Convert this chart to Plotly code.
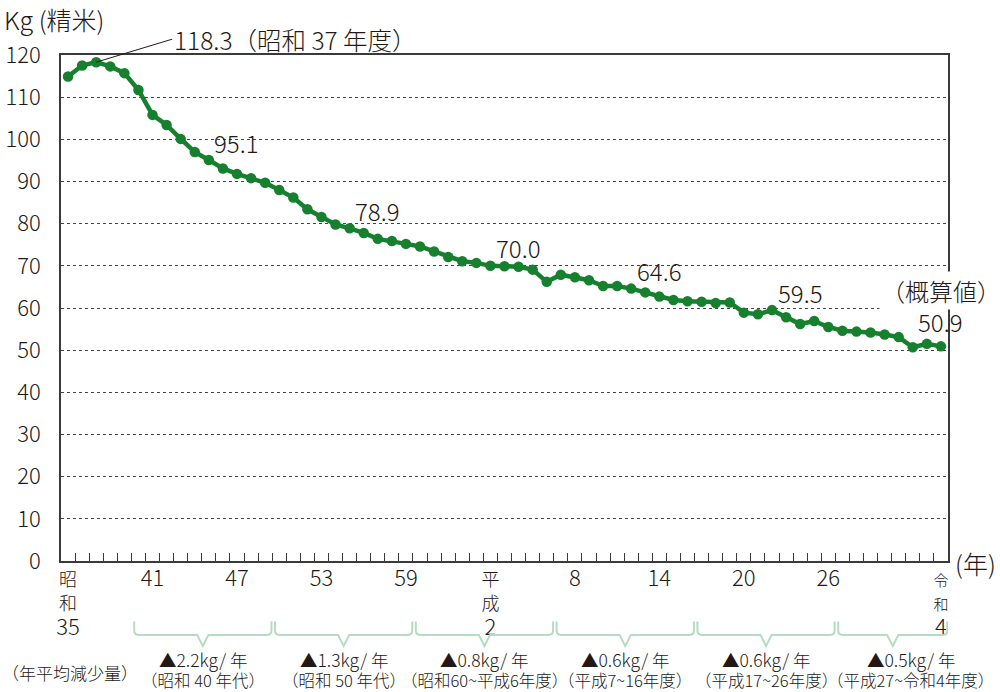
import plotly.graph_objects as go

# ---- data ----
years = list(range(1960, 2023))
consumption = [
    114.9, 117.5, 118.3, 117.3, 115.7, 111.7, 105.8, 103.4, 100.1, 97.0,
    95.1, 93.1, 91.8, 90.8, 89.7, 88.0, 86.2, 83.4, 81.6, 79.8,
    78.9, 77.8, 76.4, 75.9, 75.2, 74.6, 73.4, 72.1, 71.1, 70.7,
    70.0, 69.9, 69.8, 69.1, 66.2, 67.9, 67.3, 66.6, 65.2, 65.2,
    64.6, 63.7, 62.7, 61.9, 61.6, 61.5, 61.2, 61.3, 58.9, 58.5,
    59.5, 57.8, 56.2, 56.9, 55.5, 54.6, 54.4, 54.2, 53.7, 53.1,
    50.7, 51.5, 50.9,
]

tick_years = [1960, 1966, 1972, 1978, 1984, 1990, 1996, 2002, 2008, 2014, 2022]
tick_era = ["昭和", "", "", "", "", "平成", "", "", "", "", "令和"]
tick_nums = ["35", "41", "47", "53", "59", "2", "8", "14", "20", "26", "4"]

label_years = [1970, 1980, 1990, 2000, 2010]
peak_year = 1962
peak_text = "118.3（昭和 37 年度）"
last_year = 2022

period_start = [1965, 1975, 1985, 1995, 2005, 2015]
period_end = [1974, 1984, 1994, 2004, 2014, 2022]
period_rate = ["▲2.2kg/ 年", "▲1.3kg/ 年", "▲0.8kg/ 年", "▲0.6kg/ 年", "▲0.6kg/ 年", "▲0.5kg/ 年"]
period_name = ["（昭和 40 年代）", "（昭和 50 年代）", "（昭和60~平成6年度）",
               "（平成7~16年度）", "（平成17~26年度）", "（平成27~令和4年度）"]

# ---- style ----
FONT = "Noto Sans CJK JP"
TXT = "#231815"
GREEN = "#16802e"
BRACKET = "#b5dcc3"
W = 300

def f(size):
    return dict(size=size, color=TXT, family=FONT, weight=W)

fig = go.Figure()
fig.add_trace(go.Scatter(
    x=years, y=consumption, mode="lines+markers",
    line=dict(color=GREEN, width=4.5),
    marker=dict(color=GREEN, size=10.5),
    cliponaxis=False, hoverinfo="skip",
))

# tick labels
ticktext = []
for era, num in zip(tick_era, tick_nums):
    parts = []
    if era:
        fs = 18 if era != "令和" else 15
        for ch in era:
            parts.append(f"<span style='font-size:{fs}px'>{ch}</span>")
    parts.append(f"<span style='font-size:22px'>{num}</span>")
    ticktext.append("<br>".join(parts))

annotations = []
val = dict(zip(years, consumption))
for yr in label_years:
    annotations.append(dict(x=yr, y=val[yr], text=f"{val[yr]:.1f}", showarrow=False,
                            xshift=28, yshift=18, font=f(24)))
annotations.append(dict(x=last_year, y=val[last_year], text=f"{val[last_year]:.1f}",
                        showarrow=False, xshift=0, yshift=25, font=f(24)))
annotations.append(dict(x=last_year, y=val[last_year], text="（概算値）",
                        showarrow=False, xshift=0, yshift=56, bgcolor="white",
                        font=f(24)))
annotations.append(dict(x=peak_year, y=val[peak_year], text=peak_text, showarrow=True,
                        arrowhead=0, arrowwidth=1, arrowcolor=TXT, ax=76, ay=-23,
                        xanchor="left", yanchor="middle", standoff=0,
                        font=f(24.5)))
annotations.append(dict(xref="paper", yref="paper", x=-0.066, y=1.072, text="Kg (精米)",
                        showarrow=False, xanchor="left", yanchor="middle", font=f(25)))
annotations.append(dict(xref="paper", yref="paper", x=1.006, y=-0.004, text="(年)",
                        showarrow=False, xanchor="left", yanchor="middle", font=f(25)))
annotations.append(dict(xref="paper", yref="paper", x=-0.0688, y=-0.2195, text="（年平均減少量）",
                        showarrow=False, xanchor="left", yanchor="middle", font=f(17)))

shapes = []
yt, yh, yd, ry = -0.1196, -0.146, -0.168, 0.009
rx, dw = 0.3, 0.4
for i, (s, e, rate, name) in enumerate(zip(period_start, period_end, period_rate, period_name)):
    xa = s - 0.3
    xb = min(e + 0.45, 2022.45)
    xc = (xa + xb) / 2
    path = (f"M {xa},{yt} L {xa},{yh+ry} Q {xa},{yh} {xa+rx},{yh} "
            f"L {xc-dw},{yh} L {xc},{yd} L {xc+dw},{yh} "
            f"L {xb-rx},{yh} Q {xb},{yh} {xb},{yh+ry} L {xb},{yt}")
    shapes.append(dict(type="path", xref="x", yref="paper", path=path,
                       line=dict(color=BRACKET, width=2)))
    shift = 18 if i == len(period_start) - 1 else 0
    annotations.append(dict(x=xc, xref="x", yref="paper", y=-0.195, text=rate, xshift=shift,
                            yanchor="middle", showarrow=False, font=f(17.5)))
    annotations.append(dict(x=xc, xref="x", yref="paper", y=-0.236, text=name, xshift=shift,
                            yanchor="middle", showarrow=False, font=f(16.5)))

fig.update_layout(
    width=1000, height=692,
    margin=dict(l=61, r=52, t=55, b=131, autoexpand=False),
    paper_bgcolor="white", plot_bgcolor="white",
    showlegend=False,
    font=dict(family=FONT, color=TXT, weight=W),
    annotations=annotations, shapes=shapes,
    xaxis=dict(
        range=[1959.5, 2022.5], tickmode="array", tickvals=tick_years, ticktext=ticktext,
        ticks="", showgrid=False, zeroline=False, automargin=False,
        showline=True, mirror=True, linecolor="#3a3a3a", linewidth=1.5,
        tickfont=f(19),
        minor=dict(tickmode="array", tickvals=[y + 0.5 for y in years[:-1]],
                   ticks="inside", ticklen=8, tickwidth=1.2, tickcolor="#3a3a3a",
                   showgrid=False),
    ),
    yaxis=dict(
        range=[0, 120], tickmode="array", tickvals=list(range(0, 121, 10)),
        ticks="", showgrid=True, gridcolor="#444444", griddash="dot", gridwidth=1.3,
        zeroline=False, automargin=False,
        showline=True, mirror=True, linecolor="#3a3a3a", linewidth=1.5,
        tickfont=f(22), ticklabelstandoff=14,
    ),
)

fig.write_html("out.html", config={"displayModeBar": False},
               post_script="document.body.style.margin='0';")
